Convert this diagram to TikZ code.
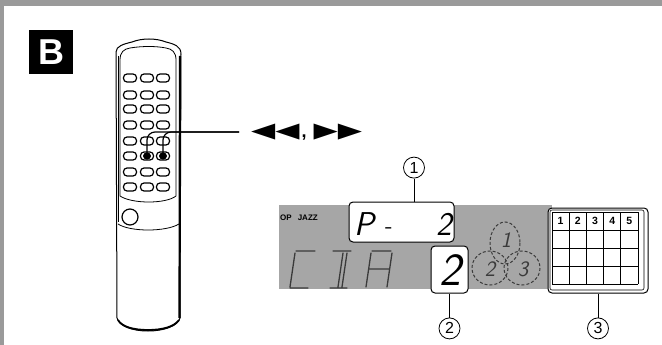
\documentclass[tikz,border=0pt]{standalone}
\usepackage{fontspec}
\newfontfamily\headfont{Liberation Sans}
\newfontfamily\symbfont{DejaVu Sans}
\usepackage{xcolor}
\definecolor{screen}{HTML}{A6A6A6}
\definecolor{band}{HTML}{9A9A9A}
\definecolor{seg}{HTML}{3A3A3A}
\usetikzlibrary{positioning}

\tikzset{
  keybtn/.style={draw, line width=1.2pt, fill=white, rounded corners=3.5pt,
        minimum width=13pt, minimum height=8pt, inner sep=0pt},
  lcdbox/.style={draw, line width=1pt, fill=white, rounded corners=4pt, inner sep=0pt},
  marker/.style={draw, circle, line width=0.8pt, minimum size=21pt, inner sep=0pt,
        font=\headfont\fontsize{16}{16}\selectfont},
  griddigit/.style={font=\headfont\bfseries\fontsize{10.5}{10.5}\selectfont, inner sep=0pt},
  lcdsmall/.style={font=\sffamily\slshape\fontsize{#1}{#1}\selectfont, inner sep=0pt},
  lcdseg/.style={seg, line width=1.3pt, line cap=round},
  faint/.style={seg, line width=1pt, densely dashed}
}

\begin{document}
\begin{tikzpicture}[x=1pt, y=-1pt]
  \useasboundingbox (0,0) rectangle (662,345);

  \fill[band] (0,0) rectangle (662,6);
  \fill[band] (0,0) rectangle (4,345);

  \node[fill=black, text=white, minimum size=44pt, inner sep=0pt,
        font=\headfont\bfseries\fontsize{36}{36}\selectfont] (badge) at (51,52) {B};

  % remote
  \draw[line width=1pt, fill=white]
    (117,318) -- (116,52) .. controls (116,46) and (124,44) .. (132,42)
    .. controls (142,38) and (156,38) .. (166,42)
    .. controls (174,44) and (181,46) .. (181,54)
    -- (180,318) .. controls (178,326) and (164,331) .. (148,331)
    .. controls (132,331) and (119,326) .. (117,318) -- cycle;
  \draw[line width=2.2pt] (180,56) -- (179.5,318);
  \draw[line width=1.8pt] (118,320) .. controls (122,327) and (134,330) .. (148,330)
    .. controls (162,330) and (174,327) .. (179,320);
  \draw[line width=0.8pt]
    (120,196) -- (120,60) .. controls (120,52) and (124,49) .. (130,48)
    .. controls (142,46) and (156,46) .. (166,48)
    .. controls (172,49) and (176,52) .. (176,60) -- (176,196)
    .. controls (166,204) and (132,204) .. (120,196) -- cycle;
  \draw[line width=0.8pt] (118,224) .. controls (130,232) and (166,232) .. (179,224);
  \draw[line width=0.6pt] (118,56) -- (118,222);

  \foreach \row/\ypos in {1/78,2/95,3/109,4/125,5/141,6/156,7/172,8/187}
    \foreach \col/\xpos in {1/130,2/147,3/163}
      \node[keybtn] (btn-\row-\col) at (\xpos,\ypos) {};

  \node[draw, circle, line width=1.2pt, fill=white, minimum size=16pt, inner sep=0pt]
    (knob) at (130,217) {};

  \fill (btn-6-2) ellipse[x radius=4, y radius=3.6];
  \fill (btn-6-3) ellipse[x radius=4, y radius=3.6];

  \coordinate (lead) at (239,132);
  \draw[line width=1.2pt, rounded corners=8pt] (lead) -| (btn-6-2.center);
  \draw[line width=1.2pt, rounded corners=8pt] (lead) -| (btn-6-3.center);

  \node[anchor=west, inner sep=0pt] (skip) at (251,132)
    {\symbfont\scalebox{1.5}[1]{\fontsize{21}{21}\selectfont ◀◀}\hspace{2pt}{\headfont\bfseries\fontsize{18}{18}\selectfont ,}\hspace{7pt}\scalebox{1.5}[1]{\fontsize{21}{21}\selectfont ▶▶}};

  % display
  \fill[screen] (279,205) rectangle (552,289);

  \node[font=\headfont\bfseries\fontsize{8}{8}\selectfont, inner sep=0pt] (genre) at (299,218)
    {OP\hspace{6pt}JAZZ};

  % dim segments
  \draw[lcdseg] (296,251) -- (315,251) (295,253) -- (290,287) (290,288) -- (308,288);
  \draw[lcdseg] (333,251) -- (351,251) (343,253) -- (338,287) (347,253) -- (342,287) (330,288) -- (347,288);
  \draw[lcdseg] (372,251) -- (391,251) (371,253) -- (366,287) (392,253) -- (387,287) (369,269) -- (389,269);

  % program lobes
  \draw[faint] (505,243) ellipse[x radius=15, y radius=21];
  \draw[faint] (490,268) ellipse[x radius=18, y radius=17];
  \draw[faint] (522,268) ellipse[x radius=18, y radius=17];
  \node[lcdsmall=22, text=seg] (lobe-a) at (506,240) {1};
  \node[lcdsmall=22, text=seg] (lobe-b) at (490,269) {2};
  \node[lcdsmall=22, text=seg] (lobe-c) at (523,269) {3};

  \node[lcdbox, minimum width=105pt, minimum height=40pt] (pbox) at (401.5,222) {};
  \node[lcdsmall=33] (ptext) at (364,224) {P};
  \node[font=\sffamily\fontsize{24}{24}\selectfont, inner sep=0pt] (pdash) at (389,231) {-};
  \node[lcdsmall=33] (pnum) at (444,224) {2};

  \node[lcdbox, minimum width=37pt, minimum height=47pt] (numbox) at (449.5,269.5) {};
  \node[lcdsmall=46] (numtext) at (450,270) {2};

  \node[lcdbox, minimum width=100pt, minimum height=85pt] (gridbox) at (598,250.5) {};
  \draw[line width=0.6pt, rounded corners=2pt] (550,210) rectangle (644,290);
  \foreach \xpos in {552,569.2,586.4,603.6,620.8,638}
    \draw[line width=1pt] (\xpos,212) -- (\xpos,284);
  \foreach \ypos in {212,230,248,266,284}
    \draw[line width=1pt] (552,\ypos) -- (638,\ypos);
  \foreach \n/\xpos in {1/560.6,2/577.8,3/595,4/612.2,5/629.4}
    \node[griddigit] (tab-\n) at (\xpos,221) {\n};

  \node[marker, above=23pt of pbox, xshift=12.5pt] (mark-a) {1};
  \node[marker, below=24pt of numbox] (mark-b) {2};
  \node[marker, below=24pt of gridbox] (mark-c) {3};

  \draw[line width=0.9pt] (mark-a) -- (mark-a |- pbox.north);
  \draw[line width=0.9pt] (mark-b) -- (numbox);
  \draw[line width=0.9pt] (mark-c) -- (gridbox);

\end{tikzpicture}
\end{document}
